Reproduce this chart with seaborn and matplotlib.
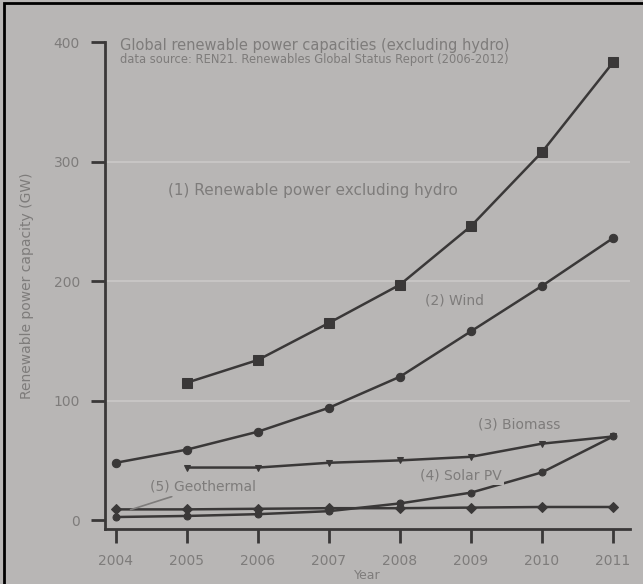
import matplotlib.pyplot as plt
import matplotlib.patches as mpatches
import pandas as pd
import seaborn as sns

# data (GW)
years = [2004, 2005, 2006, 2007, 2008, 2009, 2010, 2011]
year_labels = ["2004", "2005", "2006", "2007", "2008", "2009", "2010", "2011"]

renewables_ex_hydro = [None, 115, 134, 165, 197, 246, 308, 383]
wind = [48, 59, 74, 94, 120, 158, 196, 236]
biomass = [None, 44, 44, 48, 50, 53, 64, 70]
solar_pv = [2.6, 3.5, 5, 7.5, 14, 23, 40, 70]
geothermal = [9, 9, 9.5, 10, 10, 10.5, 11, 11]

series_names = ["(1) Renewable power excluding hydro", "(2) Wind", "(3) Biomass",
                "(4) Solar PV", "(5) Geothermal"]
series_values = [renewables_ex_hydro, wind, biomass, solar_pv, geothermal]
series_markers = ["s", "o", "v", "o", "D"]
series_msize = [7, 6, 5, 5, 5]

bg = "#b8b6b5"
ink = "#3a3838"
text_grey = "#7e7c7b"

sns.set_theme(style="white", rc={"axes.facecolor": bg, "figure.facecolor": bg})
plt.rcParams["font.family"] = ["DejaVu Sans"]

fig = plt.figure(figsize=(6.43, 5.84), dpi=100)
ax = fig.add_axes([0.163, 0.094, 0.817, 0.834])

for name, vals, mk, ms in zip(series_names, series_values, series_markers, series_msize):
    df = pd.DataFrame({"year": years, "gw": vals}).dropna()
    sns.lineplot(data=df, x="year", y="gw", ax=ax, color=ink, lw=1.8,
                 marker=mk, markersize=ms, markeredgecolor=ink,
                 markerfacecolor=ink, zorder=3)

ax.set_xlim(2003.845, 2011.24)
ax.set_ylim(-7.5, 400)
ax.set_xticks(years)
ax.set_xticklabels(year_labels)
ax.set_yticks([0, 100, 200, 300, 400])
ax.set_yticklabels(["0", "100", "200", "300", "400"])

ax.yaxis.grid(True, color="#c9c7c6", lw=1.3)
ax.yaxis.get_gridlines()[-1].set_visible(False)
ax.yaxis.get_gridlines()[0].set_visible(False)
ax.set_axisbelow(True)

for side in ["top", "right"]:
    ax.spines[side].set_visible(False)
for side in ["left", "bottom"]:
    ax.spines[side].set_color(ink)
    ax.spines[side].set_linewidth(2)

ax.tick_params(axis="both", which="major", direction="out", length=10, width=2,
               color=ink, labelcolor=text_grey, labelsize=10, pad=8,
               left=True, bottom=True)

ax.set_xlabel("Year", color=text_grey, fontsize=9, labelpad=1)
ax.set_ylabel("Renewable power capacity (GW)", color=text_grey, fontsize=10, labelpad=14)

# title block in the top-left of the plot area
ax.text(0.029, 0.992, "Global renewable power capacities (excluding hydro)",
        transform=ax.transAxes, ha="left", va="center", fontsize=10.5, color=text_grey)
ax.text(0.029, 0.965, "data source: REN21. Renewables Global Status Report (2006-2012)",
        transform=ax.transAxes, ha="left", va="center", fontsize=8.3, color=text_grey)

# in-plot series labels
lab_kw = dict(ha="left", va="center", fontsize=10, color=text_grey, zorder=4,
              bbox=dict(facecolor=bg, edgecolor="none", pad=1.5))
ax.text(2004.73, 276, series_names[0], **dict(lab_kw, fontsize=11))
ax.text(2008.35, 184, series_names[1], **lab_kw)
ax.text(2009.10, 80, series_names[2], **lab_kw)
ax.text(2008.28, 37, series_names[3], **lab_kw)
ax.annotate(series_names[4], xy=(2004.17, 8), xytext=(2004.48, 28),
            arrowprops=dict(arrowstyle="-", color=text_grey, lw=1.2),
            **lab_kw)

# scan page frame
fig.add_artist(mpatches.Rectangle((0.006, -0.01), 1.2, 1.005, transform=fig.transFigure,
                                  fill=False, edgecolor="black", lw=2))

fig.savefig("out.png", dpi=100)
